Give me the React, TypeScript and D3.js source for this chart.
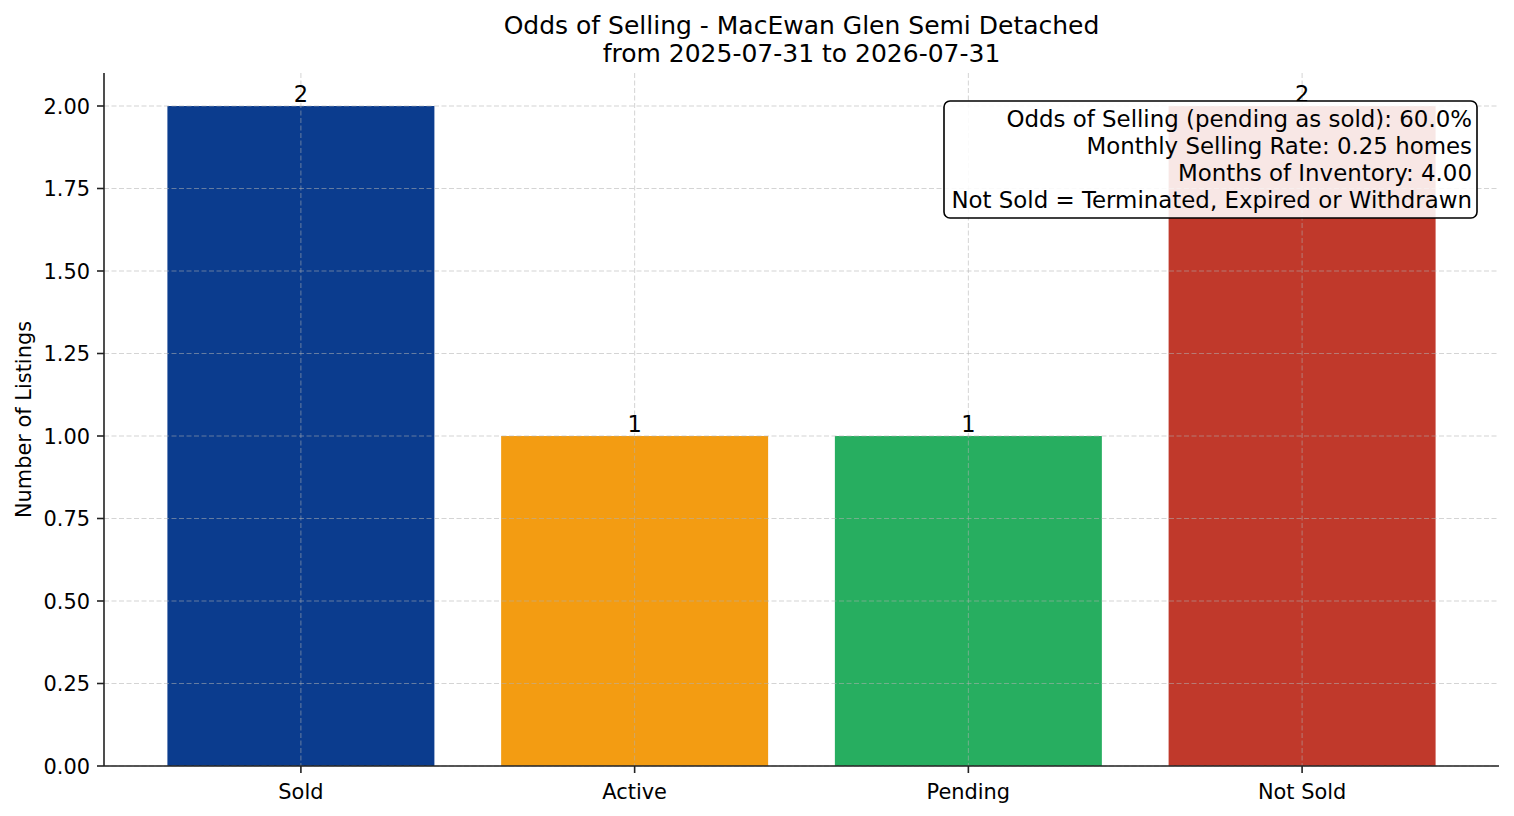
import { useMemo } from 'react'
import * as d3 from 'd3'

// chart data
const categories = ['Sold', 'Active', 'Pending', 'Not Sold']
const counts = [2, 1, 1, 2]
const barColors = ['#0B3C8E', '#F39C12', '#27AE60', '#C0392B']
const yTicks = [0, 0.25, 0.5, 0.75, 1.0, 1.25, 1.5, 1.75, 2.0]
const titleLines = ['Odds of Selling - MacEwan Glen Semi Detached', 'from 2025-07-31 to 2026-07-31']
const infoLines = [
  'Odds of Selling (pending as sold): 60.0%',
  'Monthly Selling Rate: 0.25 homes',
  'Months of Inventory: 4.00',
  'Not Sold = Terminated, Expired or Withdrawn',
]

const W = 1514
const H = 816
const M = { left: 104, right: 1499, top: 73, bottom: 766 }
const FONT = '"DejaVu Sans", Verdana, sans-serif'
const TICK_FS = 20.9

export default function App() {
  const { x, y } = useMemo(() => {
    const x = d3.scaleBand<string>().domain(categories).range([M.left, M.right]).paddingInner(0.2).paddingOuter(0.19)
    const y = d3.scaleLinear().domain([0, 2.1]).range([M.bottom, M.top])
    return { x, y }
  }, [])

  const box = { x0: 944, x1: 1477, y0: 101, y1: 218 }

  return (
    <svg
      width={W}
      height={H}
      style={{ position: 'absolute', left: 0, top: 0, background: '#fff' }}
      fontFamily={FONT}
    >
      {/* title */}
      {titleLines.map((t, i) => (
        <text key={i} x={(M.left + M.right) / 2} y={34 + i * 28} textAnchor="middle" fontSize={25} fill="#000">
          {t}
        </text>
      ))}

      {/* bars */}
      {categories.map((c, i) => (
        <rect
          key={c}
          x={x(c)}
          y={y(counts[i])}
          width={x.bandwidth()}
          height={y(0) - y(counts[i])}
          fill={barColors[i]}
        />
      ))}

      {/* grid, drawn above bars */}
      <g stroke="#b0b0b0" strokeOpacity={0.55} strokeWidth={1} strokeDasharray="5,2.5">
        {yTicks.map((t) => (
          <line key={t} x1={M.left} x2={M.right} y1={y(t)} y2={y(t)} />
        ))}
        {categories.map((c) => {
          const cx = (x(c) ?? 0) + x.bandwidth() / 2
          return <line key={c} x1={cx} x2={cx} y1={M.top} y2={M.bottom} />
        })}
      </g>

      {/* bar value labels */}
      {categories.map((c, i) => (
        <text
          key={c}
          x={(x(c) ?? 0) + x.bandwidth() / 2}
          y={y(counts[i]) - 4}
          textAnchor="middle"
          fontSize={22.5}
          fill="#000"
        >
          {counts[i]}
        </text>
      ))}

      {/* y axis */}
      <g>
        {yTicks.map((t) => (
          <g key={t}>
            <line x1={M.left - 7} x2={M.left} y1={y(t)} y2={y(t)} stroke="#222" strokeWidth={1.6} />
            <text x={M.left - 14} y={y(t)} dy="0.36em" textAnchor="end" fontSize={TICK_FS} fill="#000">
              {t.toFixed(2)}
            </text>
          </g>
        ))}
        <line x1={M.left} x2={M.left} y1={M.top} y2={M.bottom} stroke="#222" strokeWidth={1.6} />
        <text
          transform={`translate(31,${(M.top + M.bottom) / 2}) rotate(-90)`}
          textAnchor="middle"
          fontSize={TICK_FS}
          fill="#000"
        >
          Number of Listings
        </text>
      </g>

      {/* x axis */}
      <g>
        {categories.map((c) => {
          const cx = (x(c) ?? 0) + x.bandwidth() / 2
          return (
            <g key={c}>
              <line x1={cx} x2={cx} y1={M.bottom} y2={M.bottom + 7} stroke="#222" strokeWidth={1.6} />
              <text x={cx} y={M.bottom + 33} textAnchor="middle" fontSize={TICK_FS} fill="#000">
                {c}
              </text>
            </g>
          )
        })}
        <line x1={M.left} x2={M.right} y1={M.bottom} y2={M.bottom} stroke="#222" strokeWidth={1.6} />
      </g>

      {/* info box */}
      <rect
        x={box.x0}
        y={box.y0}
        width={box.x1 - box.x0}
        height={box.y1 - box.y0}
        rx={6}
        fill="#fff"
        fillOpacity={0.88}
        stroke="#000"
        strokeWidth={1.6}
      />
      {infoLines.map((t, i) => (
        <text key={i} x={box.x1 - 5} y={127 + i * 27} textAnchor="end" fontSize={22.9} fill="#000">
          {t}
        </text>
      ))}
    </svg>
  )
}
